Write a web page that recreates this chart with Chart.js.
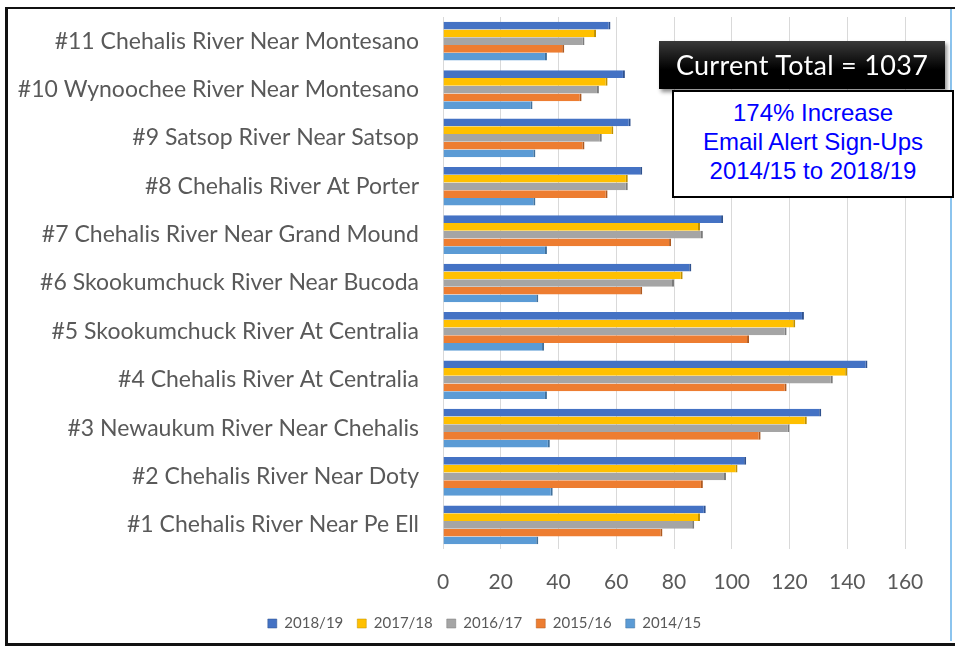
<!DOCTYPE html>
<html>
<head>
<meta charset="utf-8">
<script src="https://cdn.jsdelivr.net/npm/chart.js@4"></script>
<style>
    body { margin: 0; background: #fff; }
    #wrap { position: relative; width: 955px; height: 646px; overflow: hidden; }
    #chart { position: absolute; left: 0; top: 0; }
    .frame { position: absolute; left: 5px; top: 7px; width: 960px; height: 634px;
             border-left: 3px solid #111; border-top: 2px solid #111; border-bottom: 3px solid #111; }
    .edge { position: absolute; left: 950px; top: 9px; width: 2px; height: 632px; background: #8cc4ee; }
    .total { position: absolute; left: 659px; top: 41px; width: 286px; height: 48px;
             background: linear-gradient(#3a3a3a, #000 60%); color: #fff; box-shadow: 2px 3px 4px rgba(0,0,0,0.45);
             font: 27px Lato, sans-serif; line-height: 48px; text-align: center; letter-spacing: 0.3px; }
    .note { position: absolute; left: 672px; top: 90px; width: 278px;
            border: 2px solid #000; background: #fff; color: #0000ff;
            font: 24px "Liberation Sans", Arial, sans-serif; line-height: 29px; text-align: center;
            padding-top: 6px; height: 98px; }
</style>
</head>
<body>
<div id="wrap">
    <canvas id="chart" width="955" height="646"></canvas>
    <div class="frame"></div>
    <div class="edge"></div>
    <div class="total">Current Total = 1037</div>
    <div class="note">174% Increase<br>Email Alert Sign-Ups<br>2014/15 to 2018/19</div>
</div>
<script>
// categories, top to bottom
var sites = [
    '#11 Chehalis River Near Montesano',
    '#10 Wynoochee River Near Montesano',
    '#9 Satsop River Near Satsop',
    '#8 Chehalis River At Porter',
    '#7 Chehalis River Near Grand Mound',
    '#6 Skookumchuck River Near Bucoda',
    '#5 Skookumchuck River At Centralia',
    '#4 Chehalis River At Centralia',
    '#3 Newaukum River Near Chehalis',
    '#2 Chehalis River Near Doty',
    '#1 Chehalis River Near Pe Ell'
];

var seasons = ['2018/19', '2017/18', '2016/17', '2015/16', '2014/15'];

var signups1819 = [58, 63, 65, 69, 97, 86, 125, 147, 131, 105, 91];
var signups1718 = [53, 57, 59, 64, 89, 83, 122, 140, 126, 102, 89];
var signups1617 = [49, 54, 55, 64, 90, 80, 119, 135, 120, 98, 87];
var signups1516 = [42, 48, 49, 57, 79, 69, 106, 119, 110, 90, 76];
var signups1415 = [36, 31, 32, 32, 36, 33, 35, 36, 37, 38, 33];

var xTicks = [0, 20, 40, 60, 80, 100, 120, 140, 160];

var colors = ['#4472c4', '#ffc000', '#a5a5a5', '#ed7d31', '#5b9bd5'];
var edges = ['#2f528f', '#bf9000', '#7b7b7b', '#ae5a21', '#41719c'];
var series = [signups1819, signups1718, signups1617, signups1516, signups1415];

var datasets = series.map(function(vals, i) {
    return {
        label: seasons[i],
        data: vals,
        backgroundColor: colors[i],
        borderColor: edges[i],
        borderWidth: { top: 0, bottom: 0, left: 0, right: 2 },
        borderSkipped: false,
        categoryPercentage: 0.8,
        barPercentage: 1.0
    };
});

// fixed axis sizes, no extra label padding above/below the plot
function fixWidth(w) {
    return function(scale) {
        scale.width = w;
        scale.paddingTop = 0;
        scale.paddingBottom = 0;
    };
}

var ctx = document.getElementById('chart').getContext('2d');
new Chart(ctx, {
    type: 'bar',
    data: { labels: sites, datasets: datasets },
    options: {
        indexAxis: 'y',
        responsive: false,
        animation: false,
        layout: { padding: { top: 17, right: 0, bottom: 5, left: 14 } },
        scales: {
            x: {
                min: 0,
                max: 160,
                afterBuildTicks: function(scale) {
                    scale.ticks = xTicks.map(function(v) { return { value: v }; });
                },
                afterFit: function(scale) { scale.height = 53; },
                grid: { color: '#d9d9d9', drawTicks: false },
                border: { display: false },
                ticks: { color: '#595959', padding: 21, font: { family: 'Lato', size: 21 } }
            },
            y: {
                afterFit: fixWidth(429),
                grid: { display: false, drawTicks: false },
                border: { display: false },
                ticks: { color: '#595959', padding: 24, font: { family: 'Lato', size: 23 } }
            },
            // empty right-hand axis, only keeps room for the boxes on the right
            y2: {
                type: 'category',
                position: 'right',
                afterFit: fixWidth(50),
                grid: { display: false, drawTicks: false },
                border: { display: false },
                ticks: { display: false }
            }
        },
        plugins: {
            legend: {
                position: 'bottom',
                labels: {
                    color: '#595959',
                    boxWidth: 9,
                    boxHeight: 9,
                    padding: 14,
                    font: { family: 'Lato', size: 15 }
                }
            },
            tooltip: { enabled: false }
        }
    }
});
</script>
</body>
</html>
